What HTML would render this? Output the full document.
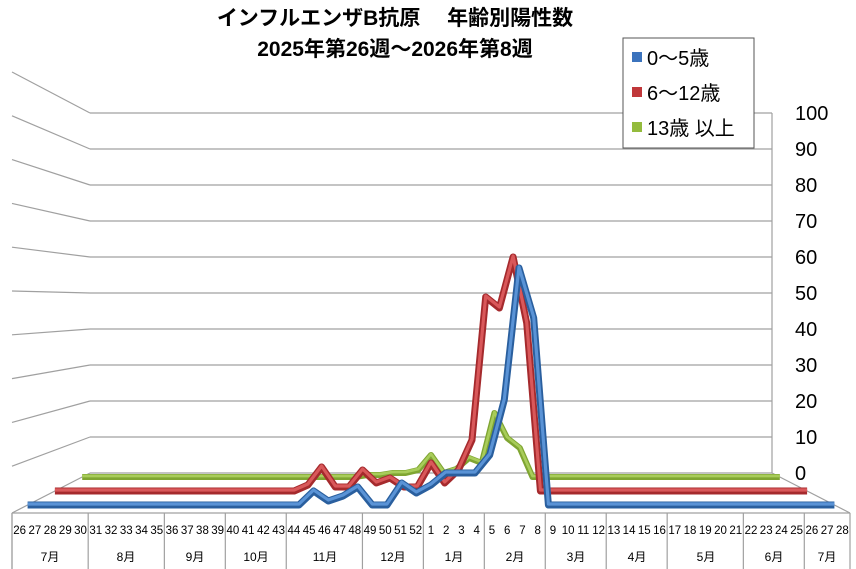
<!DOCTYPE html>
<html><head><meta charset="utf-8"><style>
body{margin:0;background:#fff;}
svg{display:block;font-family:"Liberation Sans","Noto Sans CJK JP",sans-serif;}
</style></head><body>
<svg id="s" width="856" height="569" viewBox="0 0 856 569" xmlns="http://www.w3.org/2000/svg">
<g id="grid" stroke="#a0a0a0" stroke-width="1.2" fill="none"></g>
<g id="series" fill="none" stroke-linejoin="round"></g>
<g font-size="20" fill="#000">
<text x="795" y="120">100</text><text x="795" y="156">90</text><text x="795" y="192">80</text>
<text x="795" y="228">70</text><text x="795" y="264">60</text><text x="795" y="300">50</text>
<text x="795" y="336">40</text><text x="795" y="372">30</text><text x="795" y="408">20</text>
<text x="795" y="444">10</text><text x="795" y="480">0</text>
</g>
<g font-size="21" font-weight="bold" text-anchor="middle">
<text x="395" y="25">インフルエンザB抗原　 年齢別陽性数</text>
<text x="395" y="56">2025年第26週～2026年第8週</text>
</g>
<g id="xl" font-size="11.5" text-anchor="middle"></g>
<g font-size="12" text-anchor="middle">
<text x="50" y="561">7月</text><text x="126" y="561">8月</text><text x="195" y="561">9月</text>
<text x="256" y="561">10月</text><text x="325" y="561">11月</text><text x="393" y="561">12月</text>
<text x="454" y="561">1月</text><text x="515" y="561">2月</text><text x="576" y="561">3月</text>
<text x="637" y="561">4月</text><text x="706" y="561">5月</text><text x="774" y="561">6月</text>
<text x="827" y="561">7月</text>
</g>
<rect x="623" y="38" width="131" height="110" fill="#fff" stroke="#555" stroke-width="1"/>
<rect x="632" y="52" width="10" height="10" fill="#3b73bd"/>
<rect x="632" y="87" width="10" height="10" fill="#c0373a"/>
<rect x="632" y="122" width="10" height="10" fill="#94bb3d"/>
<g font-size="20"><text x="647" y="65">0～5歳</text><text x="647" y="100">6～12歳</text><text x="647" y="135">13歳 以上</text></g>
</svg>
<script>
var NS="http://www.w3.org/2000/svg";
function el(p,t,a){var e=document.createElementNS(NS,t);for(var k in a)e.setAttribute(k,a[k]);p.appendChild(e);return e;}
var g=document.getElementById('grid');
for(var k=0;k<=10;k++){var yr=113+36*k;el(g,'line',{x1:90,y1:yr,x2:772,y2:yr});
 if(k<10)el(g,'line',{x1:12,y1:72+43.8*k,x2:90,y2:yr});}
el(g,'line',{x1:12,y1:513,x2:90,y2:473});
el(g,'line',{x1:772,y1:113,x2:772,y2:473});
el(g,'line',{x1:772,y1:473,x2:850,y2:513});
el(g,'line',{x1:12,y1:513,x2:850,y2:513});
el(g,'line',{x1:12,y1:513,x2:12,y2:569});
var step=838/55, bounds=[0,5,10,14,18,23,27,31,35,39,43,48,52,55];
bounds.forEach(function(b){var x=12+b*step;el(g,'line',{x1:x,y1:513,x2:x,y2:569});});
var xl=document.getElementById('xl'),labs=[];
for(var i=26;i<=52;i++)labs.push(i);for(var i=1;i<=28;i++)labs.push(i);
labs.forEach(function(l,i){var t=el(xl,'text',{x:12+(i+0.5)*step,y:534});t.textContent=l;});
function mk(n,o){var a=[];for(var i=0;i<n;i++)a.push(o[i]||0);return a;}
var blue=mk(55,{19:14,20:4,21:9,22:18,25:22,26:12,27:20,28:32,29:32,30:32,31:50,32:105,33:237,34:187});
var red=mk(55,{18:6,19:24,20:4,21:4,22:21,23:8,24:13,25:4,26:4,27:28,28:8,29:21,30:51,31:194,32:183,33:234,34:168});
var green=mk(55,{22:2,23:2,24:4,25:4,26:7,27:22,28:4,29:8,30:19,31:14,32:64,33:39,34:29});
var S=document.getElementById('series');
function draw(d,t,dark,light,w){var L=12+78*t,R=850-78*t,y0=513-40*t,W=(R-L)/55;
 var pts=[[L,y0]];d.forEach(function(v,i){pts.push([L+(i+0.5)*W,y0-v]);});pts.push([R,y0]);
 var s=pts.map(function(p){return p[0].toFixed(1)+','+p[1].toFixed(1);}).join(' ');
 el(S,'polyline',{points:s,stroke:dark,'stroke-width':w});
 el(S,'polyline',{points:s,stroke:light,'stroke-width':w*0.45,transform:'translate(0,-1)'});}
draw(green,0.9,'#7fa532','#a8cc5a',6);
draw(red,0.55,'#a52a2d','#d9585a',7);
draw(blue,0.2,'#2a5f9e','#5a93d6',7);
</script>
</body></html>
